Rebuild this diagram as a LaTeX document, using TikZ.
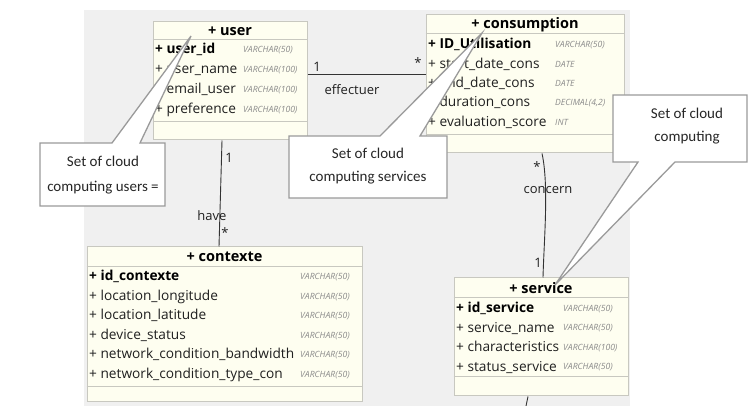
\documentclass[tikz,border=0pt]{standalone}
\usepackage{fontspec}
\setmainfont{Open Sans}
\newfontfamily\calfont{Carlito}
\definecolor{boxfill}{HTML}{FEFEF0}
\definecolor{boxline}{HTML}{C8C8C0}
\definecolor{bggray}{HTML}{F0F0F0}
\definecolor{callline}{HTML}{9A9A9A}
\definecolor{typegray}{HTML}{8A8A8A}
\definecolor{txt}{HTML}{202020}
\tikzset{
  entity/.style={draw=boxline, fill=boxfill, line width=1pt, inner sep=0pt},
  sepline/.style={draw=boxline, line width=1pt},
  hdr/.style={inner sep=0pt, font=\fontsize{14.5}{17}\selectfont\bfseries, text=black},
  fld/.style={anchor=west, inner sep=0pt, text height=10pt, text depth=2pt, font=\fontsize{13.7}{16}\selectfont, text=txt},
  pk/.style={fld, font=\fontsize{13.7}{16}\selectfont\bfseries, text=black},
  typ/.style={anchor=west, inner sep=0pt, text height=6pt, text depth=1.5pt, font=\fontsize{8.6}{10}\selectfont\itshape, text=typegray},
  lbl/.style={inner sep=0pt, font=\fontsize{13}{15}\selectfont, text=txt},
  conn/.style={draw=black!80, line width=0.9pt},
  callout/.style={draw=callline, fill=white, line width=1.3pt, line join=miter},
  calltext/.style={align=center, inner sep=0pt, text=black!85}
}
\begin{document}
\begin{tikzpicture}[x=1pt,y=-1pt]
\useasboundingbox (0,0) rectangle (748,406);
\fill[white] (0,0) rectangle (748,406);
\fill[bggray] (84,10) rectangle (630,406);

% ---- user ----
\node[entity, minimum width=154pt, minimum height=118pt] (user) at (230,81) {};
\draw[sepline] (user.west |- 0,40) -- (user.east |- 0,40);
\draw[sepline] (user.west |- 0,122) -- (user.east |- 0,122);
\node[hdr] (uh) at (230,31) {+ user};
\node[pk]  (u1) at (155,50) {+ user\_id};
\node[fld] (u2) at (155,70) {+ user\_name};
\node[fld] (u3) at (155,90) {+ email\_user};
\node[fld] (u4) at (155,110) {+ preference};
\node[typ] (ut1) at (243,50) {VARCHAR(50)};
\node[typ] (ut2) at (243,70) {VARCHAR(100)};
\node[typ] (ut3) at (243,90) {VARCHAR(100)};
\node[typ] (ut4) at (243,110) {VARCHAR(100)};

% ---- consumption ----
\node[entity, minimum width=198pt, minimum height=138pt] (cons) at (525,84) {};
\draw[sepline] (cons.west |- 0,34) -- (cons.east |- 0,34);
\draw[sepline] (cons.west |- 0,135) -- (cons.east |- 0,135);
\node[hdr] (ch) at (525,25) {+ consumption};
\node[pk]  (c1) at (428,45) {+ ID\_Utilisation};
\node[fld] (c2) at (428,65) {+ start\_date\_cons};
\node[fld] (c3) at (428,84) {+ end\_date\_cons};
\node[fld] (c4) at (428,103) {+ duration\_cons};
\node[fld] (c5) at (428,123) {+ evaluation\_score};
\node[typ] (ct1) at (555,45) {VARCHAR(50)};
\node[typ] (ct2) at (555,65) {DATE};
\node[typ] (ct3) at (555,84) {DATE};
\node[typ] (ct4) at (555,103) {DECIMAL(4,2)};
\node[typ] (ct5) at (555,123) {INT};

% ---- contexte ----
\node[entity, minimum width=275pt, minimum height=155pt] (ctx) at (224.5,324.5) {};
\draw[sepline] (ctx.west |- 0,267) -- (ctx.east |- 0,267);
\draw[sepline] (ctx.west |- 0,387) -- (ctx.east |- 0,387);
\node[hdr] (xh) at (224.5,257) {+ contexte};
\node[pk]  (x1) at (89,277) {+ id\_contexte};
\node[fld] (x2) at (89,297) {+ location\_longitude};
\node[fld] (x3) at (89,316) {+ location\_latitude};
\node[fld] (x4) at (89,336) {+ device\_status};
\node[fld] (x5) at (89,355) {+ network\_condition\_bandwidth};
\node[fld] (x6) at (89,375) {+ network\_condition\_type\_con};
\node[typ] (xt1) at (300,277) {VARCHAR(50)};
\node[typ] (xt2) at (300,297) {VARCHAR(50)};
\node[typ] (xt3) at (300,316) {VARCHAR(50)};
\node[typ] (xt4) at (300,336) {VARCHAR(50)};
\node[typ] (xt5) at (300,355) {VARCHAR(50)};
\node[typ] (xt6) at (300,375) {VARCHAR(50)};

% ---- service ----
\node[entity, minimum width=174pt, minimum height=118pt] (serv) at (541,337) {};
\draw[sepline] (serv.west |- 0,298) -- (serv.east |- 0,298);
\draw[sepline] (serv.west |- 0,377) -- (serv.east |- 0,377);
\node[hdr] (sh) at (541,288) {+ service};
\node[pk]  (s1) at (456,309) {+ id\_service};
\node[fld] (s2) at (456,328.5) {+ service\_name};
\node[fld] (s3) at (456,348) {+ characteristics};
\node[fld] (s4) at (456,367.5) {+ status\_service};
\node[typ] (st1) at (563,309) {VARCHAR(50)};
\node[typ] (st2) at (563,328.5) {VARCHAR(50)};
\node[typ] (st3) at (563,348) {VARCHAR(100)};
\node[typ] (st4) at (563,367.5) {VARCHAR(50)};

% ---- connectors ----
\draw[conn] (user.east |- 0,74) -- (cons.west |- 0,74);
\draw[conn] (user.south -| 222,0) -- (ctx.north -| 219,0);
\draw[conn] (cons.south -| 542,0) .. controls (549,185) and (544,240) .. (serv.north -| 543,0);
\coordinate (offb) at (526,406);
\draw[conn] (serv.south -| 528,0) -- (offb);

\node[lbl] (l1) at (317,67) {1};
\node[lbl] (l2) at (418,63) {*};
\node[lbl] (l3) at (352,90) {effectuer};
\node[lbl] (l4) at (229,158) {1};
\node[lbl] (l5) at (212,216) {have};
\node[lbl] (l6) at (225,233) {*};
\node[lbl] (l7) at (537,167) {*};
\node[lbl] (l8) at (548,190) {concern};
\node[lbl] (l9) at (538,263) {1};

% ---- callouts ----
\draw[callout] (40,143) -- (112,143) -- (191,36) -- (140,143) -- (165,143) -- (165,206) -- (40,206) -- cycle;
\node[calltext, font=\calfont\fontsize{15}{25}\selectfont] (k1) at (103,175.5) {Set of cloud\\computing users =};

\draw[callout] (289,136) -- (380,136) -- (482,33) -- (420,136) -- (447,136) -- (447,198) -- (289,198) -- cycle;
\node[calltext, font=\calfont\fontsize{15}{23}\selectfont] (k2) at (368,166.5) {Set of cloud\\computing services};

\draw[callout] (613,95) -- (747,95) -- (747,162) -- (675,162) -- (555,285) -- (638,162) -- (613,162) -- cycle;
\node[calltext, font=\calfont\fontsize{15}{23}\selectfont] (k3) at (687,126.5) {Set of cloud\\computing};
\end{tikzpicture}
\end{document}
